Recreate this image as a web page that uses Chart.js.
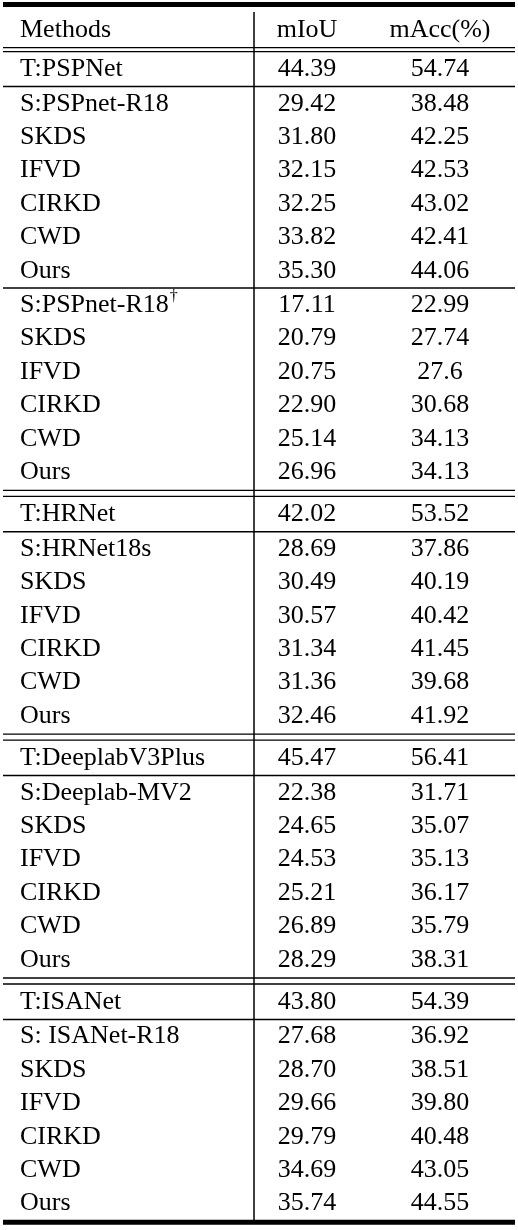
<!DOCTYPE html>
<html>
<head>
<meta charset="utf-8">
<script src="https://cdn.jsdelivr.net/npm/chart.js@4/dist/chart.umd.min.js"></script>
<style>
html, body { margin: 0; padding: 0; background: #fff; }
#wrap { width: 518px; height: 1230px; }
</style>
</head>
<body>
<div id="wrap"><canvas id="tbl"></canvas></div>
<script>
var headers = ['Methods', 'mIoU', 'mAcc(%)']
var methods = ['T:PSPNet', 'S:PSPnet-R18', 'SKDS', 'IFVD', 'CIRKD', 'CWD', 'Ours',
  'S:PSPnet-R18\u2020', 'SKDS', 'IFVD', 'CIRKD', 'CWD', 'Ours',
  'T:HRNet', 'S:HRNet18s', 'SKDS', 'IFVD', 'CIRKD', 'CWD', 'Ours',
  'T:DeeplabV3Plus', 'S:Deeplab-MV2', 'SKDS', 'IFVD', 'CIRKD', 'CWD', 'Ours',
  'T:ISANet', 'S: ISANet-R18', 'SKDS', 'IFVD', 'CIRKD', 'CWD', 'Ours']
var miou = ['44.39', '29.42', '31.80', '32.15', '32.25', '33.82', '35.30',
  '17.11', '20.79', '20.75', '22.90', '25.14', '26.96',
  '42.02', '28.69', '30.49', '30.57', '31.34', '31.36', '32.46',
  '45.47', '22.38', '24.65', '24.53', '25.21', '26.89', '28.29',
  '43.80', '27.68', '28.70', '29.66', '29.79', '34.69', '35.74']
var macc = ['54.74', '38.48', '42.25', '42.53', '43.02', '42.41', '44.06',
  '22.99', '27.74', '27.6', '30.68', '34.13', '34.13',
  '53.52', '37.86', '40.19', '40.42', '41.45', '39.68', '41.92',
  '56.41', '31.71', '35.07', '35.13', '36.17', '35.79', '38.31',
  '54.39', '36.92', '38.51', '39.80', '40.48', '43.05', '44.55']
// rule drawn below each row (index into methods): 's' single, 'd' double
var rules = {0: 's', 6: 's', 12: 'd', 13: 's', 19: 'd', 20: 's', 26: 'd', 27: 's'}

var ROW = 33.4, HEAD = 30, GAP = {h: 6, s: 1, d: 9}
var ys = []
var y = HEAD + ROW + GAP.h
for (var i = 0; i < methods.length; i++) {
  ys.push(y)
  y += ROW + (rules[i] ? GAP[rules[i]] : 0)
}
var colX = [20, 307, 440]
var FAMILY = '"Liberation Serif", "Times New Roman", "DejaVu Serif", serif'
var FONT = '26px ' + FAMILY

function col(k, vals) {
  return { label: headers[k], data: vals.map(function (v, i) { return { x: colX[k], y: ys[i], t: v } }), pointRadius: 0 }
}

var tablePlugin = {
  id: 'tablePlugin',
  afterDraw: function (chart) {
    var ctx = chart.ctx, sx = chart.scales.x, sy = chart.scales.y
    ctx.save()
    ctx.fillStyle = '#000'
    ctx.strokeStyle = '#000'
    ctx.font = FONT
    ctx.textBaseline = 'middle'
    ctx.textAlign = 'left'
    ctx.fillText(headers[0], sx.getPixelForValue(colX[0]), sy.getPixelForValue(HEAD))
    ctx.textAlign = 'center'
    ctx.fillText(headers[1], sx.getPixelForValue(colX[1]), sy.getPixelForValue(HEAD))
    ctx.fillText(headers[2], sx.getPixelForValue(colX[2]), sy.getPixelForValue(HEAD))
    chart.data.datasets.forEach(function (ds, k) {
      var meta = chart.getDatasetMeta(k)
      meta.data.forEach(function (pt, i) {
        var t = ds.data[i].t
        ctx.font = FONT
        if (k === 0) {
          ctx.textAlign = 'left'
          var dag = t.indexOf('\u2020') >= 0
          var base = t.replace('\u2020', '')
          ctx.fillText(base, pt.x, pt.y)
          if (dag) {
            var w = ctx.measureText(base).width
            ctx.font = '16px ' + FAMILY
            ctx.fillText('\u2020', pt.x + w + 1, pt.y - 8)
          }
        } else {
          ctx.textAlign = 'center'
          ctx.fillText(t, pt.x, pt.y)
        }
      })
    })
    function hline(yv, lw) {
      ctx.lineWidth = lw
      ctx.beginPath()
      ctx.moveTo(sx.getPixelForValue(3), yv)
      ctx.lineTo(sx.getPixelForValue(515), yv)
      ctx.stroke()
    }
    hline(sy.getPixelForValue(4.5), 5)
    var hb = sy.getPixelForValue(HEAD + ROW / 2 + GAP.h / 2)
    hline(hb - 2, 1.3); hline(hb + 2, 1.3)
    for (var i = 0; i < ys.length; i++) {
      if (!rules[i]) continue
      var p = sy.getPixelForValue(ys[i] + ROW / 2 + GAP[rules[i]] / 2)
      if (rules[i] === 's') hline(p, 1.5)
      else { hline(p - 3, 1.3); hline(p + 3, 1.3) }
    }
    var last = sy.getPixelForValue(ys[ys.length - 1] + ROW / 2 + 2)
    hline(last, 5)
    ctx.lineWidth = 1.5
    ctx.beginPath()
    ctx.moveTo(sx.getPixelForValue(254), sy.getPixelForValue(12))
    ctx.lineTo(sx.getPixelForValue(254), last)
    ctx.stroke()
    ctx.restore()
  }
}

function build() {
  new Chart(document.getElementById('tbl'), {
    type: 'scatter',
    data: { datasets: [col(0, methods), col(1, miou), col(2, macc)] },
    options: {
      responsive: true,
      maintainAspectRatio: false,
      animation: false,
      layout: { padding: 0 },
      plugins: { legend: { display: false }, tooltip: { enabled: false } },
      scales: {
        x: { type: 'linear', min: 0, max: 518, display: false },
        y: { type: 'linear', min: 0, max: 1230, reverse: true, display: false }
      }
    },
    plugins: [tablePlugin]
  })
}

if (document.fonts && document.fonts.load) {
  document.fonts.load(FONT, 'Methods 0123').then(build, build)
} else {
  build()
}
</script>
</body>
</html>
